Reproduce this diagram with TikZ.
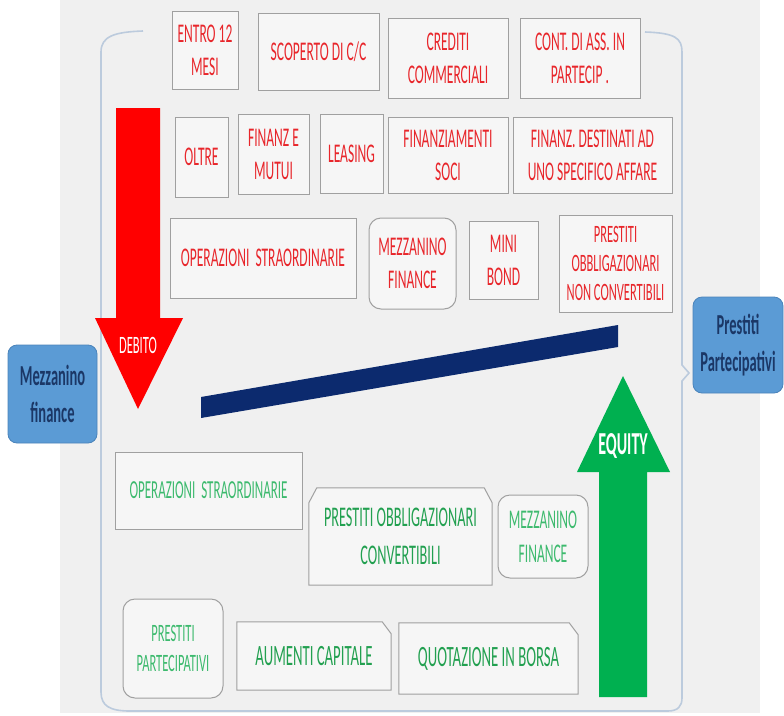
\documentclass[tikz,border=0pt]{standalone}
\usepackage{fontspec}
\newfontfamily\cf{Carlito}[FakeStretch=0.5]
\newcommand\fz[2]{\fontsize{#1}{#2}\selectfont}
\definecolor{bggray}{HTML}{F0F0F0}
\definecolor{boxfill}{HTML}{F6F6F6}
\definecolor{boxgray}{HTML}{A0A0A0}
\definecolor{redtxt}{HTML}{E8262B}
\definecolor{grntxt}{HTML}{3DBA6E}
\definecolor{grndark}{HTML}{22A050}
\definecolor{arrred}{HTML}{FF0000}
\definecolor{arrgrn}{HTML}{00B050}
\definecolor{navybar}{HTML}{0C2A6E}
\definecolor{sidefill}{HTML}{5B9BD5}
\definecolor{sideline}{HTML}{4A83BA}
\definecolor{sidetxt}{HTML}{1B3766}
\definecolor{brk}{HTML}{BCCBDD}
\pgfdeclarelayer{bg}
\pgfdeclarelayer{mid}
\pgfsetlayers{bg,mid,main}
\tikzset{
  wh/.style 2 args={minimum width=#1pt, minimum height=#2pt},
  boxline/.style={draw=boxgray, fill=boxfill, line width=1pt},
  rbox/.style={boxline, text=redtxt, align=center, inner sep=0pt, font=\cf\fz{27}{33}},
  gbox/.style={rbox, text=grntxt},
  snipbox/.style={draw=none, fill=none, text=grndark, align=center, inner sep=0pt},
  sbox/.style={fill=sidefill, draw=sideline, line width=0.8pt, rounded corners=9pt, text=sidetxt, align=center, inner sep=0pt, font=\cf\bfseries\fz{29}{37}},
  bracket/.style={draw=brk, line width=1.6pt},
}
\begin{document}
\begin{tikzpicture}[x=1pt,y=-1pt]
\useasboundingbox (0,0) rectangle (784,715);
\begin{pgfonlayer}{bg}
\fill[white] (0,0) rectangle (784,715);
\fill[bggray] (60,0) rectangle (760,713);
\end{pgfonlayer}
% bracket
\draw[bracket] (143,31) .. controls (115,32) and (101,36) .. (101,52) -- (101,692)
  .. controls (101,706) and (110,711) .. (130,711) -- (668,711)
  .. controls (678,711) and (682,706) .. (682,698) -- (682,381) -- (689,373) -- (682,365) -- (682,52)
  .. controls (682,38) and (675,33) .. (645,32);
% red arrow
\fill[arrred] (116,108) -- (160,108) -- (160,318) -- (183,318) -- (138,409) -- (95,318) -- (116,318) -- cycle;
\node[text=white, font=\cf\fz{25}{28}] (debito) at (138,345) {DEBITO};
% green arrow
\fill[arrgrn] (599,697) -- (647,697) -- (647,472) -- (670,472) -- (623,376) -- (577,472) -- (599,472) -- cycle;
\node[text=white, font=\cf\bfseries\fz{32}{34}] (equity) at (623,446) {EQUITY};
% navy bar
\fill[navybar] (201,397) -- (618,325) -- (618,347) -- (201,418) -- cycle;
% red boxes
\node[rbox, wh={66}{78}] (e12) at (205,50) {ENTRO 12\\MESI};
\node[rbox, wh={121}{77}] (scop) at (318.5,51.5) {SCOPERTO DI C/C};
\node[rbox, wh={120}{80}] (cred) at (448,58) {CREDITI\\COMMERCIALI};
\node[rbox, wh={120}{80}] (cont) at (580,58) {CONT. DI ASS. IN\\PARTECIP .};
\node[rbox, wh={53}{80}] (oltre) at (201.5,157) {OLTRE};
\node[rbox, wh={71}{80}] (fmut) at (273.5,154) {FINANZ E\\MUTUI};
\node[rbox, wh={63}{79}] (leas) at (351.5,153.5) {LEASING};
\node[rbox, wh={120}{76}] (fsoc) at (448,155) {FINANZIAMENTI\\SOCI};
\node[rbox, wh={159}{76}] (fdest) at (592.5,155) {FINANZ. DESTINATI AD\\UNO SPECIFICO AFFARE};
\node[rbox, wh={186}{80}] (opst) at (263,258) {OPERAZIONI\ \ STRAORDINARIE};
\node[rbox, rounded corners=12pt, wh={87}{91}] (mezr) at (412.5,263.5) {MEZZANINO\\FINANCE};
\node[rbox, wh={69}{78}] (mini) at (503.5,260) {MINI\\BOND};
\node[rbox, wh={113}{97}, font=\cf\fz{25}{29}] (ponc) at (615.5,263.5) {PRESTITI\\OBBLIGAZIONARI\\NON CONVERTIBILI};
% green boxes
\node[gbox, wh={187}{77}, font=\cf\fz{26}{30}] (gop) at (208.5,490.5) {OPERAZIONI\ \ STRAORDINARIE};
\node[snipbox, wh={183}{97}, font=\cf\fz{28.5}{38}] (gpoc) at (400.5,536.5) {PRESTITI OBBLIGAZIONARI\\CONVERTIBILI};
\node[gbox, rounded corners=12pt, wh={90}{83}, font=\cf\fz{27}{34}] (gmez) at (543,536.5) {MEZZANINO\\FINANCE};
\node[gbox, rounded corners=12pt, wh={100}{99}, font=\cf\fz{25}{30}] (gpp) at (173,648.5) {PRESTITI\\PARTECIPATIVI};
\node[snipbox, wh={154}{68}, font=\cf\fz{29.5}{32}] (gaum) at (314,656) {AUMENTI CAPITALE};
\node[snipbox, wh={179}{71}, font=\cf\fz{29.5}{32}] (gquot) at (488.5,658.5) {QUOTAZIONE IN BORSA};
\begin{pgfonlayer}{mid}
\filldraw[boxline] (gpoc.south west) -- ([yshift=-15pt]gpoc.north west) -- ([xshift=8pt]gpoc.north west)
  -- ([xshift=-8pt]gpoc.north east) -- ([yshift=-15pt]gpoc.north east) -- (gpoc.south east) -- cycle;
\filldraw[boxline] (gaum.south west) -- (gaum.north west) -- ([xshift=-9pt]gaum.north east)
  -- ([yshift=-12pt]gaum.north east) -- (gaum.south east) -- cycle;
\filldraw[boxline] (gquot.south west) -- (gquot.north west) -- ([xshift=-9pt]gquot.north east)
  -- ([yshift=-12pt]gquot.north east) -- (gquot.south east) -- cycle;
\end{pgfonlayer}
% side boxes
\node[sbox, wh={89}{98}] (mf) at (52.5,394) {Mezzanino\\finance};
\node[sbox, wh={90}{96}] (pp) at (738,345) {Prestiti\\Partecipativi};
\end{tikzpicture}
\end{document}
